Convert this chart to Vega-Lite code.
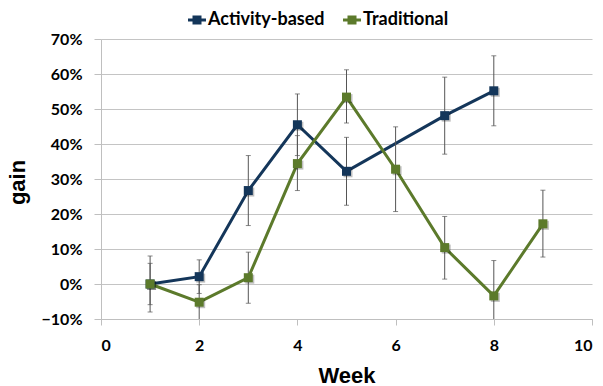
{
  "$schema": "https://vega.github.io/schema/vega-lite/v6.json",
  "width": 491,
  "height": 280,
  "autosize": {"type": "none"},
  "padding": {"left": 101, "top": 39, "right": 11, "bottom": 67},
  "background": "white",
  "config": {
    "view": {"stroke": null},
    "axis": {
      "labelFont": "Lato", "labelFontWeight": "bold", "labelFontSize": 16, "labelColor": "#000000",
      "titleFont": "Liberation Sans", "titleFontWeight": "bold", "titleFontSize": 22, "titleColor": "#000000",
      "domainColor": "#bfbfbf", "tickColor": "#bfbfbf", "gridColor": "#c4c4c4", "domainWidth": 1, "tickWidth": 1, "gridWidth": 1
    }
  },
  "data": {
    "values": [
      {"week": 1, "series": "Activity-based", "gain": 0.0, "lo": -0.08, "hi": 0.08},
      {"week": 2, "series": "Activity-based", "gain": 0.021, "lo": -0.027, "hi": 0.069},
      {"week": 3, "series": "Activity-based", "gain": 0.267, "lo": 0.167, "hi": 0.367},
      {"week": 4, "series": "Activity-based", "gain": 0.455, "lo": 0.367, "hi": 0.543},
      {"week": 5, "series": "Activity-based", "gain": 0.322, "lo": 0.225, "hi": 0.419},
      {"week": 7, "series": "Activity-based", "gain": 0.481, "lo": 0.371, "hi": 0.591},
      {"week": 8, "series": "Activity-based", "gain": 0.552, "lo": 0.452, "hi": 0.652},
      {"week": 1, "series": "Traditional", "gain": 0.0, "lo": -0.059, "hi": 0.059},
      {"week": 2, "series": "Traditional", "gain": -0.052, "lo": -0.102, "hi": -0.002},
      {"week": 3, "series": "Traditional", "gain": 0.018, "lo": -0.055, "hi": 0.091},
      {"week": 4, "series": "Traditional", "gain": 0.344, "lo": 0.267, "hi": 0.424},
      {"week": 5, "series": "Traditional", "gain": 0.534, "lo": 0.46, "hi": 0.612},
      {"week": 6, "series": "Traditional", "gain": 0.328, "lo": 0.207, "hi": 0.449},
      {"week": 7, "series": "Traditional", "gain": 0.104, "lo": 0.014, "hi": 0.193},
      {"week": 8, "series": "Traditional", "gain": -0.034, "lo": -0.134, "hi": 0.067},
      {"week": 9, "series": "Traditional", "gain": 0.172, "lo": 0.077, "hi": 0.268}
    ]
  },
  "encoding": {
    "x": {
      "field": "week", "type": "quantitative",
      "scale": {"domain": [0, 10], "nice": false},
      "axis": {"values": [0, 2, 4, 6, 8, 10], "grid": false, "tickSize": 6, "labelPadding": 12, "title": "Week", "titleY": 56, "titleBaseline": "middle"}
    },
    "y": {
      "field": "gain", "type": "quantitative",
      "scale": {"domain": [-0.1, 0.7], "nice": false},
      "axis": {"values": [-0.1, 0, 0.1, 0.2, 0.3, 0.4, 0.5, 0.6, 0.7], "format": ".0%", "grid": true, "tickSize": 7, "labelPadding": 12, "title": "gain", "titleX": -84, "titleY": 143, "titleAngle": -90, "titleAlign": "center", "titleBaseline": "middle"}
    },
    "color": {
      "field": "series", "type": "nominal",
      "scale": {"domain": ["Activity-based", "Traditional"], "range": ["#14365A", "#5C7A2B"]},
      "legend": {
        "title": null, "orient": "none", "direction": "horizontal", "legendX": 87, "legendY": -28, "padding": 0,
        "symbolType": "M-1,-0.17H1V0.17H-1Z M-0.5,-0.5H0.5V0.5H-0.5Z", "symbolSize": 324, "symbolStrokeWidth": 0, "symbolOpacity": 1,
        "labelFont": "Lato", "labelFontWeight": "bold", "labelFontSize": 18, "labelColor": "#000000", "labelOffset": 2, "columnPadding": 18
      }
    }
  },
  "layer": [
    {"mark": {"type": "line", "strokeWidth": 3, "clip": true}, "encoding": {"order": {"field": "week"}}},
    {"mark": {"type": "rule", "color": "#555555", "strokeWidth": 1, "clip": true}, "encoding": {"y": {"field": "lo", "type": "quantitative"}, "y2": {"field": "hi"}, "color": {"value": "#555555"}}},
    {"mark": {"type": "tick", "orient": "horizontal", "color": "#555555", "size": 5, "thickness": 1, "clip": true}, "encoding": {"y": {"field": "lo", "type": "quantitative"}, "color": {"value": "#555555"}}},
    {"mark": {"type": "tick", "orient": "horizontal", "color": "#555555", "size": 5, "thickness": 1, "clip": true}, "encoding": {"y": {"field": "hi", "type": "quantitative"}, "color": {"value": "#555555"}}},
    {"mark": {"type": "point", "shape": "square", "filled": true, "size": 81, "opacity": 0.25, "xOffset": 1.5, "yOffset": 1.5}, "encoding": {"color": {"value": "#000000"}}},
    {"mark": {"type": "point", "shape": "square", "filled": true, "size": 81, "opacity": 1}}
  ]
}
